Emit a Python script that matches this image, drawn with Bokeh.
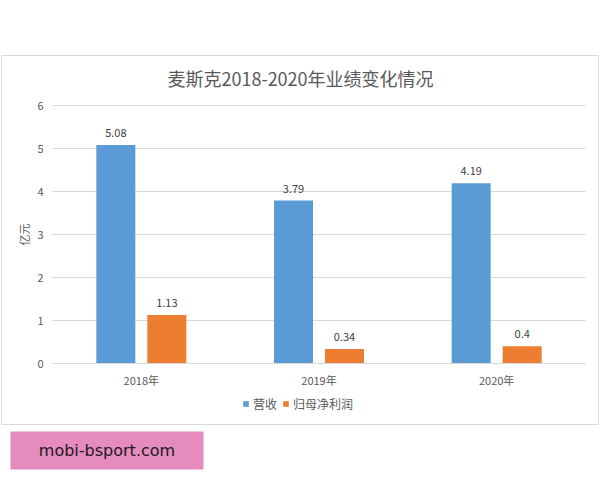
from bokeh.plotting import figure
from bokeh.models import (Range1d, ColumnDataSource, LabelSet, Legend, LegendItem, Label,
                          FixedTicker, LinearAxis, Grid)
from bokeh.transform import dodge
from bokeh.core.properties import value
from bokeh.embed import file_html
from bokeh.resources import INLINE

# ---- data ----
years = ["2018年", "2019年", "2020年"]
revenue = [5.08, 3.79, 4.19]
net_profit = [1.13, 0.34, 0.4]
revenue_labels = ["5.08", "3.79", "4.19"]
net_profit_labels = ["1.13", "0.34", "0.4"]
y_ticks = [0, 1, 2, 3, 4, 5, 6]
title_text = "麦斯克2018-2020年业绩变化情况"
series_names = ["营收", "归母净利润"]
y_label = "亿元"
footer_text = "mobi-bsport.com"

FONT = "Noto Sans CJK SC"
BLUE = "#5B9BD5"
ORANGE = "#ED7D31"
GRAY = "#595959"

# category centres on a numeric axis (one unit per category)
xpos = [i + 0.5 for i in range(len(years))]
src = ColumnDataSource(dict(x=xpos, rev=revenue, np=net_profit,
                            rev_lab=revenue_labels, np_lab=net_profit_labels))

W, H = 600, 480
p = figure(width=W, height=H, x_range=Range1d(-0.29268, 3.0844),
           y_range=Range1d(-2.7209, 8.4419), output_backend="svg", toolbar_location=None,
           x_axis_type=None, y_axis_type=None,
           min_border_left=0, min_border_right=0, min_border_top=0, min_border_bottom=0)
p.outline_line_color = None
p.background_fill_color = "white"
p.border_fill_color = "white"
p.xgrid.visible = False
p.ygrid.visible = False

# outer chart border
p.quad(left=[-0.2871], right=[3.0732], bottom=[-1.4186], top=[7.163],
       fill_color="white", fill_alpha=0, line_color="#d9d9d9", line_width=1)

# gridlines
p.add_layout(Grid(dimension=1, ticker=FixedTicker(ticks=y_ticks), cross_bounds=(0, 3),
                  grid_line_color="#d9d9d9", grid_line_width=1))

off = 0.1435
w = 0.2195
r1 = p.vbar(x=dodge("x", -off), top="rev", width=w, source=src,
            fill_color=BLUE, line_color=None)
r2 = p.vbar(x=dodge("x", off), top="np", width=w, source=src,
            fill_color=ORANGE, line_color=None)

for col, lab, o in (("rev", "rev_lab", -off), ("np", "np_lab", off)):
    p.add_layout(LabelSet(x=dodge("x", o), y=col, text=lab, source=src,
                          text_align="center", text_baseline="bottom", y_offset=8,
                          text_font=value(FONT), text_font_size=value("11px"),
                          text_color="#404040"))

# axes (fixed at data positions)
xaxis = LinearAxis(fixed_location=0, bounds=(0, 3),
                   ticker=FixedTicker(ticks=xpos),
                   major_label_overrides={x: y for x, y in zip(xpos, years)})
xaxis.axis_line_color = "#d9d9d9"
xaxis.major_tick_line_color = None
xaxis.minor_tick_line_color = None
xaxis.major_tick_out = 0
xaxis.major_tick_in = 0
xaxis.major_label_text_font = FONT
xaxis.major_label_text_font_size = "11px"
xaxis.major_label_text_color = GRAY
xaxis.major_label_standoff = 8
p.add_layout(xaxis, "below")

yaxis = LinearAxis(fixed_location=0, bounds=(0, 6), ticker=FixedTicker(ticks=y_ticks))
yaxis.axis_line_color = None
yaxis.major_tick_line_color = None
yaxis.minor_tick_line_color = None
yaxis.major_tick_out = 0
yaxis.major_tick_in = 0
yaxis.major_label_text_font = FONT
yaxis.major_label_text_font_size = "11px"
yaxis.major_label_text_color = GRAY
yaxis.major_label_standoff = 9
yaxis.axis_label = y_label
yaxis.axis_label_text_font = FONT
yaxis.axis_label_text_font_size = "11px"
yaxis.axis_label_text_font_style = "normal"
yaxis.axis_label_text_color = GRAY
yaxis.axis_label_standoff = 2
p.add_layout(yaxis, "left")

# legend
legend = Legend(items=[LegendItem(label=series_names[0], renderers=[r1]),
                       LegendItem(label=series_names[1], renderers=[r2])],
                orientation="horizontal", location=(242, 68))
legend.glyph_width = 7
legend.glyph_height = 7
legend.label_standoff = 4
legend.spacing = 5
legend.padding = 0
legend.margin = 0
legend.border_line_color = None
legend.background_fill_alpha = 0
legend.label_text_font = FONT
legend.label_text_font_size = "12px"
legend.label_text_color = GRAY
legend.label_height = 14
p.add_layout(legend)

# title
p.add_layout(Label(x=1.3959, y=6.651, text=title_text, text_align="center",
                   text_baseline="middle", text_font=FONT, text_font_size="18px",
                   text_color=GRAY))

# footer pink box
p.quad(left=[-0.2364], right=[0.8499], bottom=[-2.465], top=[-1.581],
       fill_color="#E68BBF", line_color=None)
p.add_layout(Label(x=0.3067, y=-2.023, text=footer_text, text_align="center",
                   text_baseline="middle", text_font="DejaVu Sans", text_font_size="16px",
                   text_color="#1a1a1a"))

open("out.html", "w").write(file_html(p, INLINE))
